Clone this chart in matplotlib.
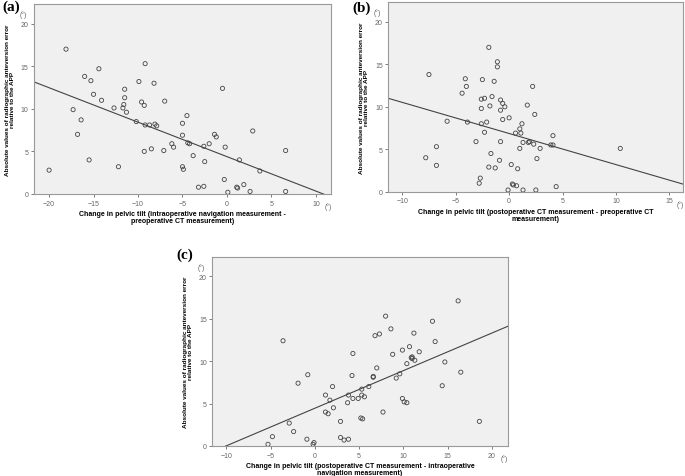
import numpy as np
import matplotlib
matplotlib.use('Agg')
import matplotlib.pyplot as plt

plt.rcParams['font.family'] = ['Liberation Sans', 'DejaVu Sans']

# absolute anteversion error values
a_x = [-20.0, -18.1, -17.3, -16.8, -16.4, -16.0, -15.5, -15.3, -15.0, -14.4, -14.1, -12.7,
       -12.2, -11.7, -11.6, -11.5, -11.5, -11.3, -10.2, -9.9, -9.6, -9.3, -9.3, -9.2, -9.2,
       -8.7, -8.5, -8.2, -8.1, -7.9, -7.1, -7.0, -6.2, -6.0, -5.0, -5.0, -5.0, -4.9, -4.5,
       -4.4, -4.2, -3.8, -3.2, -2.6, -2.6, -2.5, -2.0, -1.4, -1.2, -0.5, -0.3, -0.2, 0.1,
       1.1, 1.2, 1.4, 1.9, 2.6, 2.9, 3.7, 6.6, 6.6]
a_y = [2.8, 17.0, 9.9, 7.0, 8.7, 13.8, 4.0, 13.3, 11.7, 14.7, 11.0, 10.1,
       3.2, 10.1, 10.5, 12.3, 11.3, 9.6, 8.5, 13.2, 10.8, 10.4, 5.0, 15.3, 8.1,
       8.1, 5.3, 13.0, 8.2, 8.0, 5.1, 10.9, 5.9, 5.5, 8.3, 6.9, 3.2, 2.9, 9.2,
       6.0, 5.9, 4.5, 0.8, 5.6, 0.9, 3.8, 5.9, 7.0, 6.7, 12.4, 1.7, 5.5, 0.2,
       0.8, 0.7, 4.0, 1.1, 0.3, 7.4, 2.7, 5.1, 0.3]

b_x = [-7.8, -7.5, -6.8, -6.8, -5.8, -4.4, -4.1, -4.0, -3.9, -3.1, -2.8, -2.7, -2.6,
       -2.6, -2.6, -2.5, -2.3, -2.3, -2.1, -1.9, -1.9, -1.8, -1.7, -1.6, -1.4, -1.3,
       -1.1, -1.1, -0.9, -0.8, -0.8, -0.8, -0.6, -0.6, -0.4, -0.1, 0.0, 0.2, 0.3, 0.4,
       0.7, 0.6, 0.8, 1.0, 1.0, 1.1, 1.2, 1.3, 1.3, 1.7, 1.8, 1.9, 2.2, 2.3, 2.4, 2.5,
       2.6, 2.9, 3.9, 4.1, 4.1, 4.4, 10.4]
b_y = [4.0, 13.8, 5.3, 3.1, 8.3, 11.6, 13.3, 12.4, 8.2, 5.9, 1.0, 1.6, 8.0,
       10.9, 9.8, 13.2, 11.0, 7.0, 8.2, 2.9, 17.0, 10.1, 4.5, 11.2, 13.0, 2.8,
       15.3, 14.7, 3.7, 9.6, 5.9, 10.8, 8.5, 10.4, 10.0, 0.2, 8.7, 3.2, 0.9, 0.8,
       0.7, 6.9, 2.7, 5.1, 7.4, 6.9, 8.0, 5.8, 0.2, 10.2, 5.8, 5.9, 12.4, 5.6, 9.1, 0.2,
       3.9, 5.1, 5.5, 6.6, 5.5, 0.6, 5.1]

c_x = [-5.3, -4.8, -3.6, -2.9, -2.4, -1.9, -0.9, -0.8, -0.2, -0.1, 1.2, 1.2, 1.5, 1.7,
       2.0, 2.1, 2.9, 2.9, 3.3, 3.7, 3.8, 3.8, 4.2, 4.3, 4.3, 4.9, 5.2, 5.3, 5.3, 5.4,
       5.6, 6.1, 6.6, 6.6, 6.8, 7.0, 7.3, 7.7, 8.0, 8.6, 8.8, 9.2, 9.6, 9.9, 9.9, 10.1,
       10.4, 10.4, 10.7, 10.9, 11.0, 11.0, 11.2, 11.3, 11.8, 13.3, 13.6, 14.4, 14.7,
       16.2, 16.5, 18.6]
c_y = [0.2, 1.1, 12.4, 2.7, 1.7, 7.4, 0.8, 8.4, 0.2, 0.4, 6.0, 4.0, 3.8, 5.4,
       7.0, 4.5, 2.9, 1.0, 0.7, 5.1, 6.0, 0.8, 8.3, 10.9, 5.6, 5.6, 3.3, 6.7, 6.0, 3.2,
       5.8, 7.0, 8.2, 8.1, 13.0, 9.2, 13.2, 4.0, 15.3, 13.8, 10.8, 8.0, 8.5, 11.3, 5.6, 5.2,
       5.1, 9.7, 11.7, 10.4, 10.5, 10.3, 13.3, 10.1, 11.1, 14.7, 12.3, 7.1, 9.9,
       17.1, 8.7, 2.9]

y_title = 'Absolute values of radiographic anteversion error\nrelative to the APP'
panels = [
    ('(a)', (0.003, 0.998), a_x, a_y, [0.0496, 0.5912, 0.4336, 0.3983], (-21.7, 11.7),
     [-20, -15, -10, -5, 0, 5, 10],
     'Change in pelvic tilt (intraoperative navigation measurement -\npreoperative CT measurement)'),
    ('(b)', (0.514, 0.996), b_x, b_y, [0.5669, 0.5960, 0.4307, 0.3970], (-11.3, 16.3),
     [-10, -5, 0, 5, 10, 15],
     'Change in pelvic tilt (postoperative CT measurement - preoperative CT\nmeasurement)'),
    ('(c)', (0.257, 0.479), c_x, c_y, [0.3099, 0.0629, 0.4312, 0.3968], (-11.6, 21.8),
     [-10, -5, 0, 5, 10, 15, 20],
     'Change in pelvic tilt (postoperative CT measurement - intraoperative\nnavigation measurement)'),
]

fig = plt.figure(figsize=(6.85, 4.77), dpi=100)

for tag, tagpos, xs, ys, pos, xlim, xticks, xlab in panels:
    ax = fig.add_axes(pos)
    ax.set_facecolor('#f0f0f0')
    ax.scatter(xs, ys, s=9, facecolors='none', edgecolors='#444444', linewidths=0.6, zorder=3)

    # least squares fit line over the full x range
    k, b = np.polyfit(xs, ys, 1)
    lx = np.array(xlim)
    ax.plot(lx, k * lx + b, color='#444444', lw=0.8, zorder=2)

    ax.set_xlim(*xlim)
    ax.set_ylim(0, 22.3)
    ax.set_xticks(xticks)
    ax.set_yticks([0, 5, 10, 15, 20])
    ax.tick_params(labelsize=5, colors='#666666', length=2.5, width=0.6, pad=1.5)
    for s in ax.spines.values():
        s.set_color('#999999')
        s.set_linewidth(0.8)

    ax.set_xlabel(xlab, fontsize=5, fontweight='bold', labelpad=2.5, linespacing=1.0)
    ax.set_ylabel(y_title, fontsize=4.6, fontweight='bold', labelpad=4, linespacing=1.1)

    ax.annotate('(°)', xy=(0, 1), xycoords='axes fraction', xytext=(-11, -10),
                textcoords='offset pixels', fontsize=5, color='#666666', ha='center', va='center')
    ax.annotate('(°)', xy=(1, 0), xycoords='axes fraction', xytext=(-3, -12),
                textcoords='offset pixels', fontsize=5, color='#666666', ha='center', va='center')
    fig.text(tagpos[0], tagpos[1], tag, fontsize=11, fontweight='bold',
             family='Liberation Serif', ha='left', va='top')

fig.savefig('out.png', dpi=100)
